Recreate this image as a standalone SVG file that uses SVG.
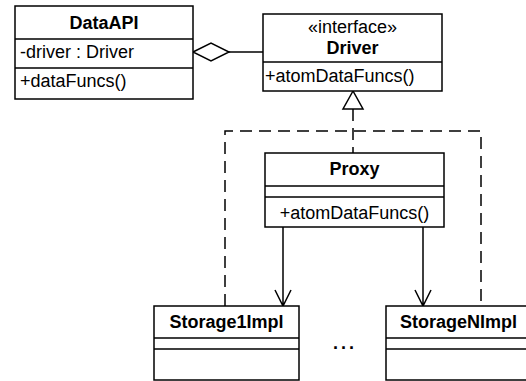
<svg xmlns="http://www.w3.org/2000/svg" width="526" height="381" viewBox="0 0 526 381">
<style>
.box{fill:#fff;stroke:#000;stroke-width:1.5}
.div{stroke:#000;stroke-width:1.5}
.t{font-family:"Liberation Sans",Arial,sans-serif;font-size:18px;fill:#000}
.b{font-weight:bold}
.c{text-anchor:middle}
.ln{fill:none;stroke:#000;stroke-width:1.5}
.dash{fill:none;stroke:#000;stroke-width:1.5;stroke-dasharray:12,7}
</style>
<rect width="526" height="381" fill="#fff"/>
<g id="connectors">
<path class="ln" d="M229,52 H263"/>
<polygon points="193,52 211,43 229,52 211,61" fill="#fff" stroke="#000" stroke-width="1.5"/>
<path class="dash" d="M353,109 V153"/>
<path class="dash" d="M225,306 V131 H481 V306"/>
<polygon points="353,91 343,109 363,109" fill="#fff" stroke="#000" stroke-width="1.5"/>
<path class="ln" d="M283,227 V306 M275,290 L283,306 L291,290"/>
<path class="ln" d="M423,227 V306 M415,290 L423,306 L431,290"/>
</g>
<g id="DataAPI">
<rect class="box" x="15" y="6" width="178" height="93"/>
<path class="div" d="M15,39 H193 M15,68 H193"/>
<text class="t b c" x="104" y="29">DataAPI</text>
<text class="t" x="20" y="58">-driver : Driver</text>
<text class="t" x="20" y="87">+dataFuncs()</text>
</g>
<g id="Driver">
<rect class="box" x="263" y="14" width="179" height="77"/>
<path class="div" d="M263,62 H442"/>
<text class="t c" x="352.5" y="33">«interface»</text>
<text class="t b c" x="352.5" y="54">Driver</text>
<text class="t" x="265" y="82">+atomDataFuncs()</text>
</g>
<g id="Proxy">
<rect class="box" x="265" y="153" width="179" height="74"/>
<path class="div" d="M265,186 H444 M265,197 H444"/>
<text class="t b c" x="354.5" y="175">Proxy</text>
<text class="t c" x="354.5" y="219">+atomDataFuncs()</text>
</g>
<g id="Storage1Impl">
<rect class="box" x="154" y="306" width="145" height="74"/>
<path class="div" d="M154,338 H299 M154,349 H299"/>
<text class="t b c" x="226.5" y="328">Storage1Impl</text>
</g>
<g id="StorageNImpl">
<rect class="box" x="386" y="306" width="145" height="74"/>
<path class="div" d="M386,338 H531 M386,349 H531"/>
<text class="t b c" x="458.5" y="328">StorageNImpl</text>
</g>
<g id="ellipsis">
<text class="t b c" x="345" y="349" letter-spacing="3">...</text>
</g>
</svg>
